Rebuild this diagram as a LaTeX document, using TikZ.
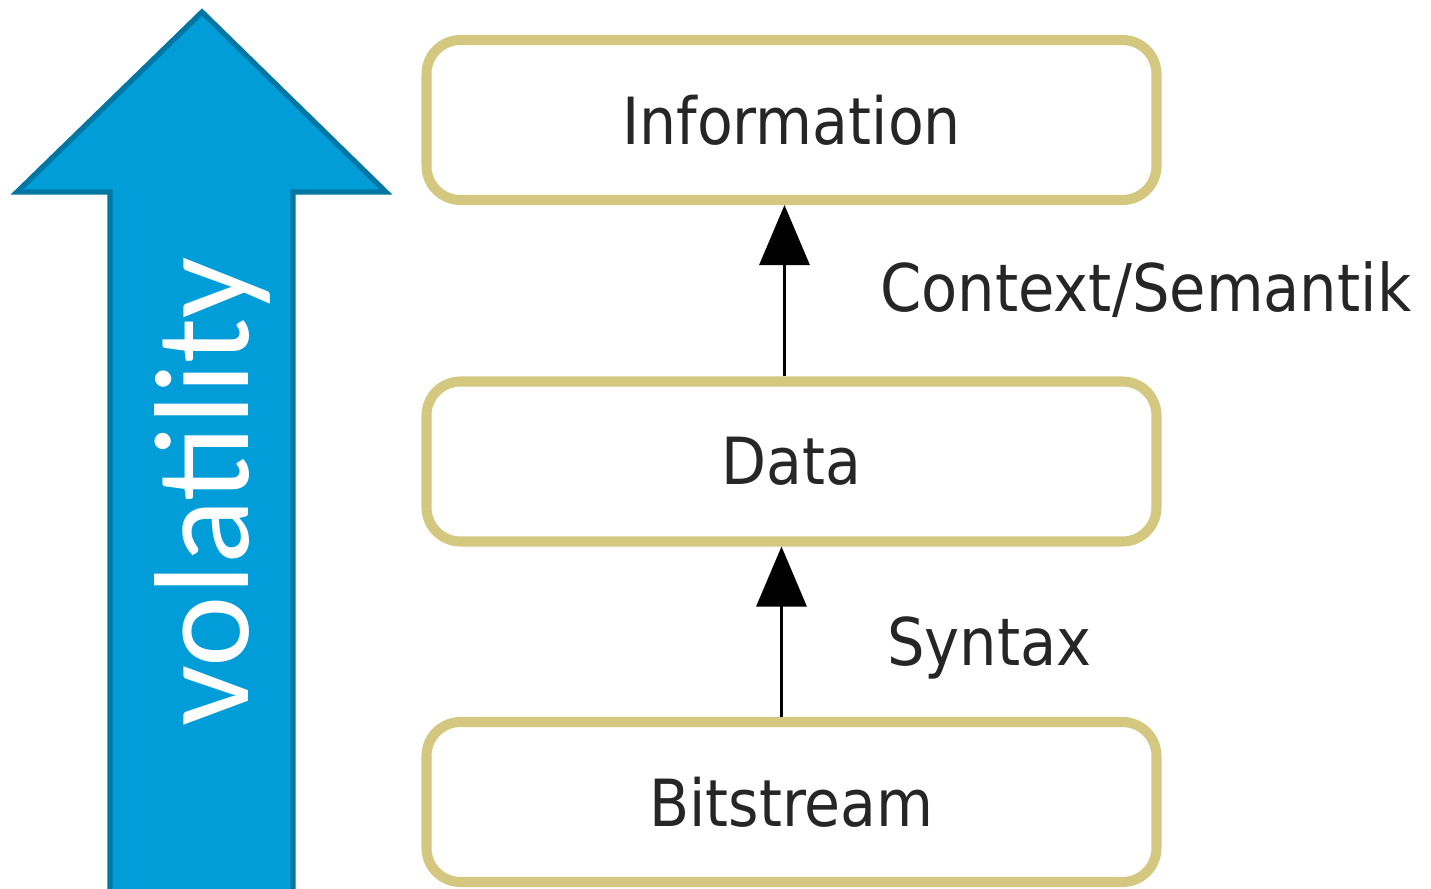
\documentclass[tikz,border=0pt]{standalone}
\usepackage{fontspec}
\setmainfont{DejaVu Sans}
\newfontfamily\layerfont[FakeStretch=0.9]{DejaVu Sans}
\newfontfamily\volfont{Carlito}
\usetikzlibrary{arrows.meta}
\definecolor{layerline}{RGB}{212,199,128}
\definecolor{layertext}{RGB}{38,38,38}
\definecolor{volfill}{RGB}{0,157,217}
\definecolor{volline}{RGB}{0,118,163}

\begin{document}
\begin{tikzpicture}
	\tikzstyle{layer}=[draw=layerline,line width=2.85pt,rounded corners=0.34cm,fill=white,minimum width=7.3cm,minimum height=1.6cm,text=layertext,font=\layerfont\fontsize{18.5}{22}\selectfont]
	\tikzstyle{link}=[line width=0.9pt,-{Triangle[length=6mm,width=5mm]}]
	\tikzstyle{lbl}=[anchor=west,text=layertext,font=\layerfont\fontsize{18.7}{22}\selectfont]
	\useasboundingbox (0,0) rectangle (14.31,8.88);
	\clip (0,0) rectangle (14.31,8.88);
	% volatility arrow
	\draw [fill=volfill,draw=volline,line width=1.5pt,line join=miter]
		(2.02,8.76) -- (3.86,6.96) -- (2.93,6.96) -- (2.93,-0.2) -- (1.10,-0.2) -- (1.10,6.96) -- (0.17,6.96) -- cycle;
	\node (vol) at (2.48,3.96) [rotate=90,anchor=base,text=white,font=\volfont\fontsize{38.5}{46}\selectfont] {volatility};
	% layers
	\node (info) at (7.915,7.68) [layer] {Information};
	\node (data) at (7.915,4.265) [layer] {Data};
	\node (bits) at (7.915,0.86) [layer] {Bitstream};
	\draw [link] ([xshift=-0.07cm]data.north) -- ([xshift=-0.07cm]info.south);
	\draw [link] ([xshift=-0.1cm]bits.north) -- ([xshift=-0.1cm]data.south);
	\node (ctx) at (8.68,5.98) [lbl] {Context/Semantik};
	\node (syn) at (8.75,2.40) [lbl] {Syntax};
\end{tikzpicture}
\end{document}
